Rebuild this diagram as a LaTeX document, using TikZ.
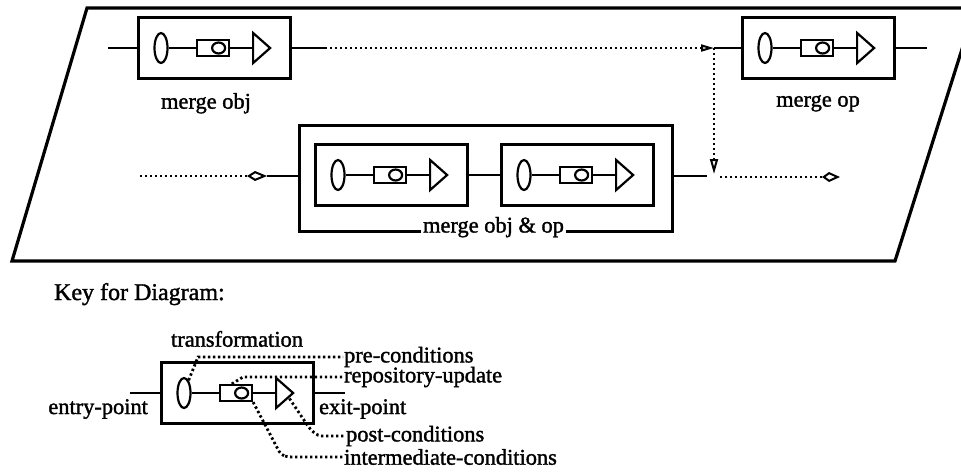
\documentclass[tikz,border=0pt]{standalone}
\usepackage{fontspec}
\setmainfont{Liberation Serif}[FakeBold=1.5]
\usetikzlibrary{shapes.geometric,arrows.meta,positioning}

\begin{document}
\begin{tikzpicture}[x=0.5pt,y=-0.5pt,font=\fontsize{11.2}{13.4}\selectfont,line width=1.1pt]
	\tikzstyle{ub}=[rectangle, draw, line width=1.5pt, minimum width=76pt, minimum height=30.5pt, inner sep=0pt]
	\tikzstyle{el}=[ellipse, draw, minimum width=6.5pt, minimum height=15pt, inner sep=0pt]
	\tikzstyle{rb}=[rectangle, draw, minimum width=16pt, minimum height=8pt, inner sep=0pt]
	\tikzstyle{ci}=[ellipse, draw, minimum width=6.5pt, minimum height=5.5pt, inner sep=0pt]
	\tikzstyle{tr}=[isosceles triangle, isosceles triangle stretches, draw, minimum width=15pt, minimum height=8.5pt, inner sep=0pt]
	\tikzstyle{dl}=[line width=1.4pt, dash pattern=on 1.2pt off 1.3pt]
	\tikzstyle{lb}=[inner sep=0pt]

	\useasboundingbox (0,0) rectangle (961,473);
	\draw[line width=1.6pt] (87,8) -- (975,8) -- (895,261) -- (12,261) -- cycle;

	% units
	\foreach \n/\x/\y in {mo/214/48, mp/818/48, a/391/175, b/577/175, k/237/393} {
		\node[ub] (\n) at (\x,\y) {};
		\node[el] (\n-e) at ([xshift=-26.5pt]\n.center) {};
		\node[rb] (\n-r) at ([xshift=-0.5pt]\n.center) {};
		\node[ci] (\n-o) at ([xshift=2.3pt]\n.center) {};
		\node[tr, anchor=apex] (\n-t) at ([xshift=29.5pt]\n.center) {};
		\draw (\n-e) -- (\n-r);
		\draw (\n-r) -- (\n-t);
	}
	\node[ub, minimum width=186.5pt, minimum height=53pt] (ab) at (485.5,178) {};

	\node[lb, below=6pt of mo, xshift=-4pt] (mol) {merge obj};
	\node[lb, below=7pt of mp] (mpl) {merge op};
	\node[fill=white, inner sep=1pt, anchor=base] (abl) at ([xshift=4pt]ab.south) {merge obj \& op};

	% top row
	\coordinate (moin) at (108,48);
	\coordinate (moout) at (325,48);
	\coordinate (j1) at (714,48);
	\coordinate (j2) at (714,174);
	\coordinate (mpout) at (927,48);
	\draw (moin) -- (mo);
	\draw (mo) -- (moout);
	\draw[dl, -{Triangle[open, length=6.5pt, width=3.5pt, line width=1pt]}] (moout) -- (j1);
	\draw (j1) -- (mp);
	\draw (mp) -- (mpout);
	\draw[dl, -{Triangle[open, length=7.5pt, width=4pt, line width=1pt]}] (j1) -- (j2);

	% bottom row
	\coordinate (ain) at (140,176);
	\coordinate (atip) at (267,176);
	\coordinate (bout) at (707,176);
	\coordinate (c1) at (720,177);
	\coordinate (c2) at (840,177);
	\draw[dl, -{Kite[open, length=10pt, width=5pt, inset=4pt, line width=1pt]}] (ain) -- (atip);
	\draw (atip) -- (atip -| ab.west);
	\draw (a) -- (b);
	\draw (bout -| ab.east) -- (bout);
	\draw[dl, -{Kite[open, length=9pt, width=5pt, inset=3.5pt, line width=1pt]}] (c1) -- (c2);

	% key
	\node[lb, anchor=base west, font=\fontsize{12}{14}\selectfont] (key) at (53,300) {Key for Diagram:};
	\node[lb, above=6.5pt of k] (kt) {transformation};
	\node[lb, anchor=east] (kent) at (149,409) {entry-point};
	\node[lb, anchor=west] (kex) at (318,409) {exit-point};
	\node[lb, anchor=west] (kpre) at (343,357) {pre-conditions};
	\node[lb, anchor=west] (krep) at (343,377) {repository-update};
	\node[lb, anchor=west] (kpost) at (345,436) {post-conditions};
	\node[lb, anchor=west] (kint) at (343,457) {intermediate-conditions};

	\coordinate (kin) at (130,393);
	\coordinate (kout) at (345,393);
	\draw (kin) -- (k);
	\draw (k) -- (kout);

	\draw[dl] (k-e.70) -- (198,357) -- (kpre);
	\draw[dl] (k-r.115) -- (243,377) -- (krep);
	\draw[dl, rounded corners=2pt] (k-t.-40) -- (310,429) -- (318,436) -- (kpost);
	\draw[dl, rounded corners=2pt] (k-r.south east) -- (281,455) -- (288,457) -- (kint);
\end{tikzpicture}
\end{document}
